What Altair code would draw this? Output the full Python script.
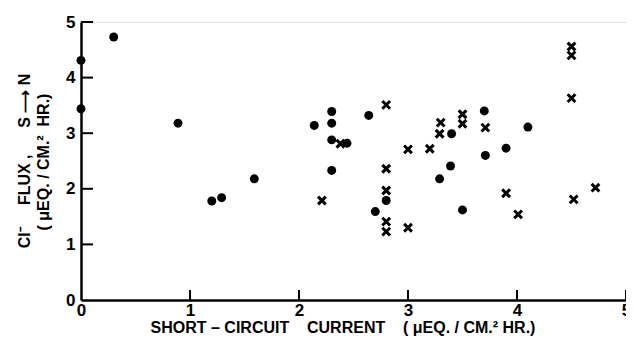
import altair as alt
import pandas as pd

# Circles (one series)
circ_x = [0.0, 0.0, 0.30, 0.89, 1.20, 1.29, 1.59, 2.14, 2.30, 2.30, 2.30, 2.44, 2.64, 2.30,
          2.80, 2.70, 3.70, 3.40, 4.10, 3.90, 3.71, 3.39, 3.29, 3.50]
circ_y = [4.31, 3.44, 4.73, 3.18, 1.78, 1.84, 2.18, 3.14, 3.39, 3.18, 2.88, 2.82, 3.32, 2.33,
          1.79, 1.59, 3.40, 2.99, 3.11, 2.73, 2.60, 2.41, 2.18, 1.62]
# Crosses (second series)
cross_x = [2.38, 2.80, 2.21, 2.80, 2.80, 2.80, 2.80, 3.00, 3.00, 3.20, 3.29, 3.30, 3.50, 3.50,
           3.71, 3.90, 4.01, 4.50, 4.50, 4.50, 4.52, 4.72]
cross_y = [2.81, 3.51, 1.79, 2.36, 1.97, 1.41, 1.23, 1.30, 2.71, 2.72, 2.99, 3.19, 3.34, 3.17,
           3.10, 1.92, 1.54, 4.56, 4.40, 3.63, 1.81, 2.02]

tick_vals = [0, 1, 2, 3, 4, 5]
inner_ticks = [1, 2, 3, 4, 5]
S = "\u00a0"
x_title = "SHORT – CIRCUIT" + S * 4 + "CURRENT" + S * 4 + "(" + S + "μEQ." + S + "/" + S + "CM.²" + S + "HR.)"
y_title_1 = "Cl⁻" + S * 5 + "FLUX" + S + "," + S * 6 + "S ⟶ N"
y_title_2 = "(" + S + "μEQ." + S + "/" + S + "CM.²" + S * 2 + "HR.)"

W, H = 545, 278
FONT = "Liberation Sans"

xs = alt.Scale(domain=[0, 5], nice=False, zero=False)
ys = alt.Scale(domain=[0, 5], nice=False, zero=False)

df_c = pd.DataFrame({"x": circ_x, "y": circ_y})
df_x = pd.DataFrame({"x": cross_x, "y": cross_y})

base_x = alt.X("x:Q", scale=xs, title=None,
               axis=alt.Axis(values=tick_vals, ticks=False, grid=False, domainColor="black",
                             domainWidth=2.5, labelFont=FONT, labelFontSize=17,
                             labelFontWeight="bold", labelColor="black", labelPadding=2,
                             labelFlush=False, format="d"))
base_y = alt.Y("y:Q", scale=ys, title=None,
               axis=alt.Axis(values=tick_vals, ticks=False, grid=False, domainColor="black",
                             domainWidth=2.5, labelFont=FONT, labelFontSize=17,
                             labelFontWeight="bold", labelColor="black", labelPadding=6,
                             labelFlush=False, format="d"))

circles = alt.Chart(df_c).mark_point(filled=True, shape="circle", size=80, color="black",
                                     opacity=1).encode(x=base_x, y=base_y)

crosses = alt.Chart(df_x).mark_point(shape="M-1,-1L1,1M-1,1L1,-1", size=60, filled=False,
                                     color="black", strokeWidth=3, opacity=1).encode(
    x=alt.X("x:Q", scale=xs), y=alt.Y("y:Q", scale=ys))

xt = alt.Chart(pd.DataFrame({"t": inner_ticks})).mark_rule(color="black", strokeWidth=2).encode(
    x=alt.X("t:Q", scale=xs), y=alt.value(H), y2=alt.value(H - 10))
yt = alt.Chart(pd.DataFrame({"t": inner_ticks})).mark_rule(color="black", strokeWidth=2).encode(
    y=alt.Y("t:Q", scale=ys), x=alt.value(0), x2=alt.value(12))

xtitle = alt.Chart(pd.DataFrame({"t": [x_title]})).mark_text(
    font=FONT, fontSize=16, fontWeight="bold", color="black", align="center",
    baseline="middle").encode(text="t:N", x=alt.value(262), y=alt.value(306))
yt1 = alt.Chart(pd.DataFrame({"t": [y_title_1]})).mark_text(
    font=FONT, fontSize=16, fontWeight="bold", color="black", align="center",
    baseline="middle", angle=270).encode(text="t:N", x=alt.value(-56), y=alt.value(139))
yt2 = alt.Chart(pd.DataFrame({"t": [y_title_2]})).mark_text(
    font=FONT, fontSize=16, fontWeight="bold", color="black", align="center",
    baseline="middle", angle=270).encode(text="t:N", x=alt.value(-37), y=alt.value(140))

chart = alt.layer(circles, crosses, xt, yt, xtitle, yt1, yt2).properties(
    width=W, height=H,
    autosize=alt.AutoSizeParams(type="none"),
    padding={"left": 73, "top": 14, "right": 0, "bottom": 44},
).configure_view(stroke=None).configure(background="white")

chart.save("out.html", embed_options={"renderer": "svg", "actions": False})
